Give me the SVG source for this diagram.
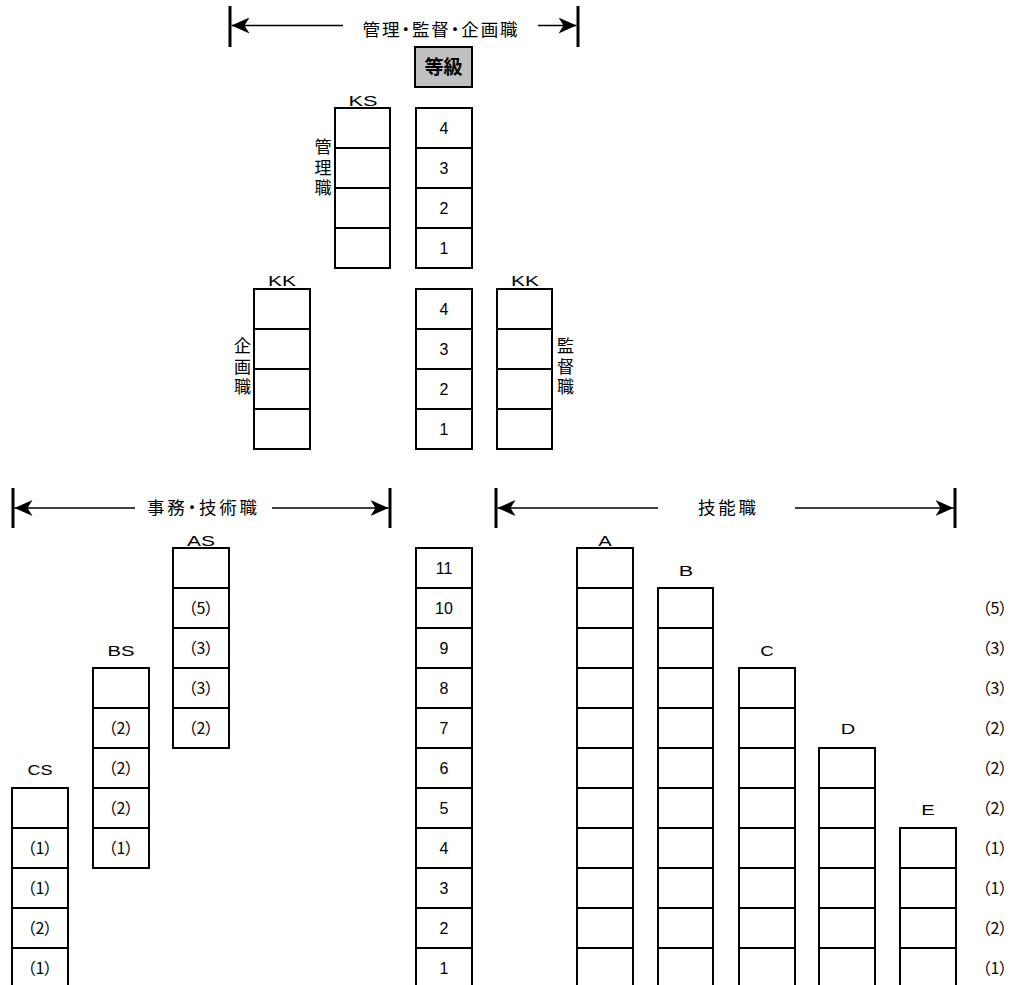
<svg xmlns="http://www.w3.org/2000/svg" width="1011" height="985" viewBox="0 0 1011 985">
<style>
.c{fill:#fff;stroke:#000;stroke-width:2}
.n{font-family:"Liberation Sans",Arial,sans-serif;font-size:16px;text-anchor:middle;fill:#000}
.p{font-family:"Noto Sans CJK JP","Liberation Sans",sans-serif;font-size:16px;text-anchor:middle;fill:#000;font-feature-settings:"palt"}
.l{font-family:"Liberation Sans",Arial,sans-serif;font-size:15px;text-anchor:middle;fill:#000}
.j{font-family:"Noto Sans CJK JP",sans-serif;font-size:17.5px;text-anchor:middle;fill:#000;font-feature-settings:"palt"}
.v{font-family:"Noto Sans CJK JP",sans-serif;font-size:17px;fill:#000;writing-mode:vertical-rl;letter-spacing:3.5px}
.bar{stroke:#000;stroke-width:3}
.ar{stroke:#000;stroke-width:1.6;fill:none}
</style>
<defs>
<marker id="ah" markerUnits="userSpaceOnUse" viewBox="0 0 18 16" markerWidth="18" markerHeight="16" refX="18" refY="8" orient="auto-start-reverse">
<path d="M0,0 L18,8 L0,16 L5,8 Z" fill="#000"/>
</marker>
</defs>

<g id="connectors">
<line class="bar" x1="230" y1="6" x2="230" y2="47"/>
<line class="bar" x1="578" y1="6" x2="578" y2="47"/>
<line class="ar" x1="231.5" y1="25.5" x2="343" y2="25.5" marker-start="url(#ah)"/>
<line class="ar" x1="538" y1="25.5" x2="576.5" y2="25.5" marker-end="url(#ah)"/>
<line class="bar" x1="13" y1="488" x2="13" y2="528"/>
<line class="bar" x1="390" y1="488" x2="390" y2="528"/>
<line class="ar" x1="14.5" y1="508" x2="135" y2="508" marker-start="url(#ah)"/>
<line class="ar" x1="272" y1="508" x2="388.5" y2="508" marker-end="url(#ah)"/>
<line class="bar" x1="496" y1="488" x2="496" y2="528"/>
<line class="bar" x1="955" y1="488" x2="955" y2="528"/>
<line class="ar" x1="497.5" y1="508" x2="658" y2="508" marker-start="url(#ah)"/>
<line class="ar" x1="795" y1="508" x2="953.5" y2="508" marker-end="url(#ah)"/>
</g>

<g id="heading-top"><text class="j" x="440" y="36" textLength="155" lengthAdjust="spacing">管理・監督・企画職</text></g>
<g id="heading-left"><text class="j" x="202" y="514" textLength="110" lengthAdjust="spacing">事務・技術職</text></g>
<g id="heading-right"><text class="j" x="727" y="514" textLength="58" lengthAdjust="spacing">技能職</text></g>

<g id="tokyu">
<rect x="415" y="47" width="57" height="40" fill="#c0c0c0" stroke="#000" stroke-width="2"/>
<text x="443.5" y="74" font-family="Noto Sans CJK JP,sans-serif" font-size="19" font-weight="bold" text-anchor="middle">等級</text>
</g>

<g id="KS">
<text class="l" x="363" y="105.5" textLength="29" lengthAdjust="spacingAndGlyphs">KS</text>
<rect class="c" x="335" y="108" width="55" height="40"/>
<rect class="c" x="335" y="148" width="55" height="40"/>
<rect class="c" x="335" y="188" width="55" height="40"/>
<rect class="c" x="335" y="228" width="55" height="40"/>
<text class="v" x="323" y="138.5">管理職</text>
</g>

<g id="grade-upper">
<rect class="c" x="416" y="108" width="56" height="40"/>
<rect class="c" x="416" y="148" width="56" height="40"/>
<rect class="c" x="416" y="188" width="56" height="40"/>
<rect class="c" x="416" y="228" width="56" height="40"/>
<text class="n" x="444" y="134">4</text>
<text class="n" x="444" y="174">3</text>
<text class="n" x="444" y="214">2</text>
<text class="n" x="444" y="254">1</text>
</g>

<g id="KK-kikaku">
<text class="l" x="282" y="285.5" textLength="28" lengthAdjust="spacingAndGlyphs">KK</text>
<rect class="c" x="254" y="289" width="56" height="40"/>
<rect class="c" x="254" y="329" width="56" height="40"/>
<rect class="c" x="254" y="369" width="56" height="40"/>
<rect class="c" x="254" y="409" width="56" height="40"/>
<text class="v" x="242.5" y="337.5">企画職</text>
</g>

<g id="grade-middle">
<rect class="c" x="416" y="289" width="56" height="40"/>
<rect class="c" x="416" y="329" width="56" height="40"/>
<rect class="c" x="416" y="369" width="56" height="40"/>
<rect class="c" x="416" y="409" width="56" height="40"/>
<text class="n" x="444" y="315">4</text>
<text class="n" x="444" y="355">3</text>
<text class="n" x="444" y="395">2</text>
<text class="n" x="444" y="435">1</text>
</g>

<g id="KK-kantoku">
<text class="l" x="525" y="285.5" textLength="28" lengthAdjust="spacingAndGlyphs">KK</text>
<rect class="c" x="497" y="289" width="55" height="40"/>
<rect class="c" x="497" y="329" width="55" height="40"/>
<rect class="c" x="497" y="369" width="55" height="40"/>
<rect class="c" x="497" y="409" width="55" height="40"/>
<text class="v" x="565.5" y="337.5">監督職</text>
</g>

<g id="AS">
<text class="l" x="201" y="546" textLength="28" lengthAdjust="spacingAndGlyphs">AS</text>
<rect class="c" x="173" y="548" width="56" height="40"/>
<rect class="c" x="173" y="588" width="56" height="40"/>
<rect class="c" x="173" y="628" width="56" height="40"/>
<rect class="c" x="173" y="668" width="56" height="40"/>
<rect class="c" x="173" y="708" width="56" height="40"/>
<text class="p" x="201" y="614">（5）</text>
<text class="p" x="201" y="654">（3）</text>
<text class="p" x="201" y="694">（3）</text>
<text class="p" x="201" y="734">（2）</text>
</g>

<g id="BS">
<text class="l" x="121" y="655.5" textLength="27" lengthAdjust="spacingAndGlyphs">BS</text>
<rect class="c" x="93" y="668" width="56" height="40"/>
<rect class="c" x="93" y="708" width="56" height="40"/>
<rect class="c" x="93" y="748" width="56" height="40"/>
<rect class="c" x="93" y="788" width="56" height="40"/>
<rect class="c" x="93" y="828" width="56" height="40"/>
<text class="p" x="121" y="734">（2）</text>
<text class="p" x="121" y="774">（2）</text>
<text class="p" x="121" y="814">（2）</text>
<text class="p" x="121" y="854">（1）</text>
</g>

<g id="CS">
<text class="l" x="40" y="774.5" textLength="25" lengthAdjust="spacingAndGlyphs">CS</text>
<rect class="c" x="12" y="788" width="56" height="40"/>
<rect class="c" x="12" y="828" width="56" height="40"/>
<rect class="c" x="12" y="868" width="56" height="40"/>
<rect class="c" x="12" y="908" width="56" height="40"/>
<rect class="c" x="12" y="948" width="56" height="40"/>
<text class="p" x="40" y="854">（1）</text>
<text class="p" x="40" y="894">（1）</text>
<text class="p" x="40" y="934">（2）</text>
<text class="p" x="40" y="974">（1）</text>
</g>

<g id="grade-lower">
<rect class="c" x="416" y="548" width="56" height="40"/>
<rect class="c" x="416" y="588" width="56" height="40"/>
<rect class="c" x="416" y="628" width="56" height="40"/>
<rect class="c" x="416" y="668" width="56" height="40"/>
<rect class="c" x="416" y="708" width="56" height="40"/>
<rect class="c" x="416" y="748" width="56" height="40"/>
<rect class="c" x="416" y="788" width="56" height="40"/>
<rect class="c" x="416" y="828" width="56" height="40"/>
<rect class="c" x="416" y="868" width="56" height="40"/>
<rect class="c" x="416" y="908" width="56" height="40"/>
<rect class="c" x="416" y="948" width="56" height="40"/>
<text class="n" x="444" y="574">11</text>
<text class="n" x="444" y="614">10</text>
<text class="n" x="444" y="654">9</text>
<text class="n" x="444" y="694">8</text>
<text class="n" x="444" y="734">7</text>
<text class="n" x="444" y="774">6</text>
<text class="n" x="444" y="814">5</text>
<text class="n" x="444" y="854">4</text>
<text class="n" x="444" y="894">3</text>
<text class="n" x="444" y="934">2</text>
<text class="n" x="444" y="974">1</text>
</g>

<g id="A">
<text class="l" x="605" y="546" textLength="13.5" lengthAdjust="spacingAndGlyphs">A</text>
<rect class="c" x="577" y="548" width="56" height="40"/>
<rect class="c" x="577" y="588" width="56" height="40"/>
<rect class="c" x="577" y="628" width="56" height="40"/>
<rect class="c" x="577" y="668" width="56" height="40"/>
<rect class="c" x="577" y="708" width="56" height="40"/>
<rect class="c" x="577" y="748" width="56" height="40"/>
<rect class="c" x="577" y="788" width="56" height="40"/>
<rect class="c" x="577" y="828" width="56" height="40"/>
<rect class="c" x="577" y="868" width="56" height="40"/>
<rect class="c" x="577" y="908" width="56" height="40"/>
<rect class="c" x="577" y="948" width="56" height="40"/>
</g>

<g id="B">
<text class="l" x="686" y="575.5" textLength="14.5" lengthAdjust="spacingAndGlyphs">B</text>
<rect class="c" x="658" y="588" width="55" height="40"/>
<rect class="c" x="658" y="628" width="55" height="40"/>
<rect class="c" x="658" y="668" width="55" height="40"/>
<rect class="c" x="658" y="708" width="55" height="40"/>
<rect class="c" x="658" y="748" width="55" height="40"/>
<rect class="c" x="658" y="788" width="55" height="40"/>
<rect class="c" x="658" y="828" width="55" height="40"/>
<rect class="c" x="658" y="868" width="55" height="40"/>
<rect class="c" x="658" y="908" width="55" height="40"/>
<rect class="c" x="658" y="948" width="55" height="40"/>
</g>

<g id="C">
<text class="l" x="767" y="656" textLength="13.5" lengthAdjust="spacingAndGlyphs">C</text>
<rect class="c" x="739" y="668" width="56" height="40"/>
<rect class="c" x="739" y="708" width="56" height="40"/>
<rect class="c" x="739" y="748" width="56" height="40"/>
<rect class="c" x="739" y="788" width="56" height="40"/>
<rect class="c" x="739" y="828" width="56" height="40"/>
<rect class="c" x="739" y="868" width="56" height="40"/>
<rect class="c" x="739" y="908" width="56" height="40"/>
<rect class="c" x="739" y="948" width="56" height="40"/>
</g>

<g id="D">
<text class="l" x="848" y="734" textLength="14.5" lengthAdjust="spacingAndGlyphs">D</text>
<rect class="c" x="819" y="748" width="56" height="40"/>
<rect class="c" x="819" y="788" width="56" height="40"/>
<rect class="c" x="819" y="828" width="56" height="40"/>
<rect class="c" x="819" y="868" width="56" height="40"/>
<rect class="c" x="819" y="908" width="56" height="40"/>
<rect class="c" x="819" y="948" width="56" height="40"/>
</g>

<g id="E">
<text class="l" x="928" y="815" textLength="13.5" lengthAdjust="spacingAndGlyphs">E</text>
<rect class="c" x="900" y="828" width="56" height="40"/>
<rect class="c" x="900" y="868" width="56" height="40"/>
<rect class="c" x="900" y="908" width="56" height="40"/>
<rect class="c" x="900" y="948" width="56" height="40"/>
</g>

<g id="right-counts">
<text class="p" x="995" y="614">（5）</text>
<text class="p" x="995" y="654">（3）</text>
<text class="p" x="995" y="694">（3）</text>
<text class="p" x="995" y="734">（2）</text>
<text class="p" x="995" y="774">（2）</text>
<text class="p" x="995" y="814">（2）</text>
<text class="p" x="995" y="854">（1）</text>
<text class="p" x="995" y="894">（1）</text>
<text class="p" x="995" y="934">（2）</text>
<text class="p" x="995" y="974">（1）</text>
</g>
</svg>
